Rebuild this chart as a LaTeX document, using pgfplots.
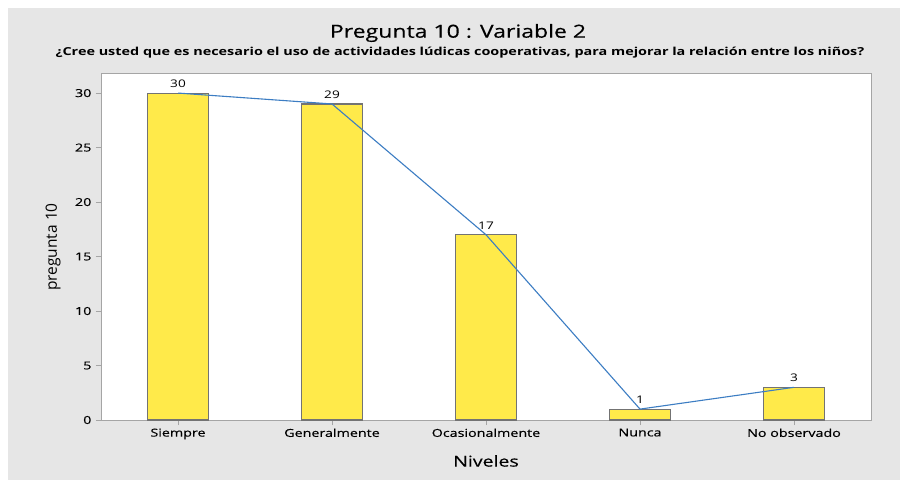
\documentclass[border=0pt]{standalone}
\usepackage{pgfplots}
\pgfplotsset{compat=1.18}
\usepackage{fontspec}
\setmainfont{Open Sans}
\newfontfamily\semi{Open Sans}[FakeBold=0.35]
\definecolor{panel}{RGB}{230,230,230}
\definecolor{baryellow}{RGB}{255,234,74}
\definecolor{bargray}{RGB}{115,115,115}
\definecolor{lineblue}{RGB}{60,125,195}
\definecolor{axgray}{RGB}{165,165,165}
\begin{document}
\begin{tikzpicture}[x=1pt,y=1pt]
\fill[white] (0,0) rectangle (900,480);
\fill[panel] (8,0) rectangle (900,472);
\node[font=\fontsize{18}{20}\selectfont\semi, xscale=1.28] at (458,447) {Pregunta 10 : Variable 2};
\node[font=\fontsize{11}{13}\selectfont\bfseries, xscale=1.31] at (460,427) {¿Cree usted que es necesario el uso de actividades lúdicas cooperativas, para mejorar la relación entre los niños?};
\begin{axis}[
  at={(101pt,60pt)}, anchor=south west,
  scale only axis, width=770pt, height=346pt,
  xmin=-0.5, xmax=4.5, ymin=0, ymax=31.75,
  axis background/.style={fill=white},
  axis line style={axgray, line width=1pt},
  tick style={axgray, line width=0.8pt},
  major tick length=5pt, tick align=outside, tick pos=left,
  xtick={0,1,2,3,4},
  xticklabels={Siempre,Generalmente,Ocasionalmente,Nunca,No observado},
  ytick={0,5,10,15,20,25,30},
  ticklabel style={font=\fontsize{11}{13}\selectfont\semi, xscale=1.3},
  /pgf/number format/assume math mode=true,
  xlabel={Niveles}, ylabel={pregunta 10},
  xlabel style={at={(axis description cs:0.5,-0.1185)}, anchor=center, font=\fontsize{15}{17}\selectfont\semi, xscale=1.3},
  ylabel style={at={(axis description cs:-0.0623,0.5)}, anchor=center, font=\fontsize{15.5}{17}\selectfont},
]
\addplot[ybar, bar width=0.4, fill=baryellow, draw=bargray, line width=1.1pt,
  nodes near coords, nodes near coords style={font=\fontsize{10.5}{12}\selectfont, xscale=1.3, anchor=south, inner sep=2pt, yshift=3pt, text=black}]
  coordinates {(0,30) (1,29) (2,17) (3,1) (4,3)};
\addplot[lineblue, line width=1.1pt, mark=none] coordinates {(0,30) (1,29) (2,17) (3,1) (4,3)};
\end{axis}
\end{tikzpicture}
\end{document}
